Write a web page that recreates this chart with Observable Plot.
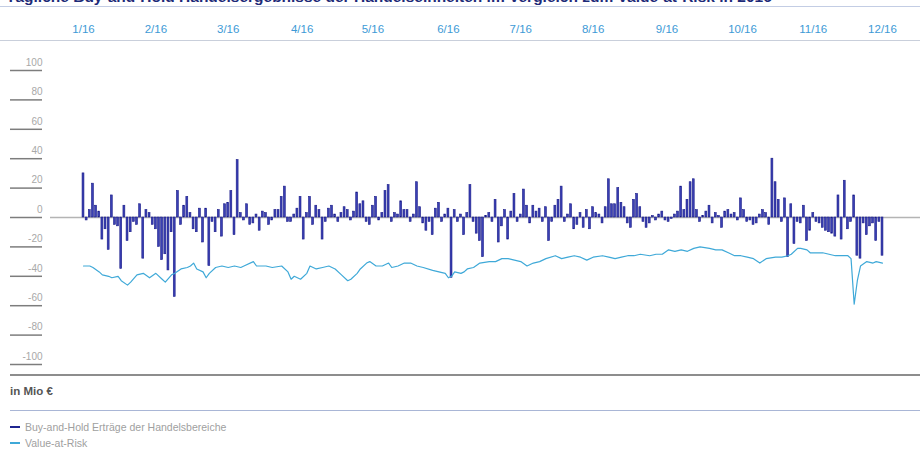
<!DOCTYPE html>
<html><head><meta charset="utf-8">
<script src="https://cdn.jsdelivr.net/npm/d3@7"></script>
<script src="https://cdn.jsdelivr.net/npm/@observablehq/plot@0.6"></script>
<style>
body{margin:0;background:#fff;font-family:"Liberation Sans",Arial,sans-serif;}
#wrap{position:relative;width:920px;height:449px;overflow:hidden;}
#chart{position:absolute;left:0;top:0;}
#title{position:absolute;left:6px;top:-12px;font-size:15.5px;font-weight:bold;color:#1d2a78;white-space:nowrap;}
.rule{position:absolute;}
#unit{position:absolute;left:10px;top:385px;font-size:11.5px;font-weight:bold;color:#555;}
.leg{position:absolute;left:10px;font-size:10.5px;color:#a0a0a0;white-space:nowrap;}
.leg span.sw{display:inline-block;width:10px;height:2px;vertical-align:middle;margin-right:5px;position:relative;top:-1px;}
</style></head>
<body>
<div id="wrap">
  <div id="chart"></div>
  <div id="title">Tägliche Buy-and-Hold Handelsergebnisse der Handelseinheiten im Vergleich zum Value-at-Risk in 2016</div>
  <div class="rule" style="left:0;top:6px;width:920px;height:1px;background:#c3cde4"></div>
  <div class="rule" style="left:0;top:40px;width:920px;height:1px;background:#c9cfdb"></div>
  <div class="rule" style="left:10px;top:374px;width:910px;height:2px;background:#8d8d8d"></div>
  <div id="unit">in Mio €</div>
  <div class="rule" style="left:10px;top:410px;width:910px;height:1px;background:#a9b6d6"></div>
  <div class="leg" style="top:421px"><span class="sw" style="background:#1f2590"></span>Buy-and-Hold Erträge der Handelsbereiche</div>
  <div class="leg" style="top:437px"><span class="sw" style="background:#3fa9d8"></span>Value-at-Risk</div>
</div>
<script>
// Daily Buy-and-Hold results (Mio €), trading days of 2016
const pnl = [
30,-2,5,23,8,4,-15,-8,-22,15,-5,-6,-35,8,-16,-10,-3,-5,9,-28,
5,3,-5,-8,-20,-29,-25,-36,-10,-54,18,-5,8,14,3,-8,-10,6,-17,6,
-33,-3,-10,5,-13,9,10,18,-12,39,3,-2,9,-5,-4,2,-9,4,3,-5,
-2,5,5,14,21,-3,-3,2,6,14,-15,3,14,-5,8,5,-15,-3,6,8,
2,-3,3,7,5,-2,4,17,9,11,-3,-5,8,14,-2,3,18,22,-3,3,
2,11,5,5,-3,2,24,7,-4,-9,-3,-12,6,10,-3,2,6,-41,5,-3,
2,-12,3,22,-3,-11,-16,-27,1,3,-3,12,-17,-6,5,-15,4,16,-3,2,
19,8,-4,8,4,6,-3,7,-16,-3,8,12,21,-3,2,9,-8,-5,3,-7,
5,-8,7,3,2,-4,7,26,9,9,20,10,7,-4,-7,12,16,7,-3,-7,
-4,1,-2,2,4,-2,-3,-1,2,4,21,5,12,24,26,5,-3,1,4,8,
-4,3,1,-7,4,5,2,3,-2,13,5,-3,-2,-5,-4,2,5,3,-5,40,
24,12,-3,13,-27,9,-18,-3,-4,8,-16,-9,3,-3,-4,-7,-9,-10,-11,-13,
15,-15,25,-8,-3,15,-26,-28,-4,-12,-6,-4,-16,-3,-26
];
// Value-at-Risk readings (trading-day index, Mio €)
const varDay = [0,2,3,5,6,8,9,11,12,14,15,17,19,21,23,25,26,28,29,31,33,34,35,36,38,39,40,42,44,46,48,50,51,54,55,58,60,63,65,66,67,69,71,72,74,76,78,80,82,84,85,87,88,90,91,93,95,97,98,100,102,104,106,108,111,113,115,116,117,118,120,121,122,124,126,129,131,133,135,137,139,141,143,145,147,150,152,154,156,158,160,162,165,167,169,171,173,175,177,180,182,184,186,188,190,192,194,196,199,201,203,205,207,209,211,213,215,217,220,222,224,225,227,228,230,231,233,235,237,239,241,243,244,245,246,247,249,251,252,254];
const varVal = [-33,-33,-34,-37,-39,-40,-41,-40,-43,-46,-44,-39,-38,-41,-38,-42,-44,-39,-38,-35,-34,-33,-31,-35,-37,-41,-38,-34,-33,-34,-33,-34,-33,-30,-33,-33,-34,-33,-37,-42,-40,-42,-38,-33,-35,-34,-33,-35,-39,-43,-42,-38,-35,-31,-30,-33,-33,-31,-34,-33,-31,-31,-33,-34,-36,-37,-38,-41,-40,-37,-38,-37,-35,-34,-31,-30,-30,-28,-28,-29,-30,-33,-31,-30,-28,-26,-28,-27,-26,-27,-29,-27,-26,-27,-28,-27,-26,-26,-25,-26,-25,-25,-22,-23,-22,-23,-21,-20,-21,-22,-22,-24,-26,-26,-27,-28,-31,-28,-27,-27,-26,-25,-21,-21,-22,-24,-24,-24,-25,-26,-26,-26,-28,-59,-43,-33,-30,-31,-30,-31];
const monthLabels = ["1/16","2/16","3/16","4/16","5/16","6/16","7/16","8/16","9/16","10/16","11/16","12/16"];
const monthPos = [0,23,46,69.5,92,116,139,162,185.5,209.5,232,254];
const yTicks = [100,80,60,40,20,0,-20,-40,-60,-80,-100];

const bars = pnl.map((v,i)=>({i, v}));
const varData = varDay.map((d,k)=>({i:d, v:varVal[k]}));
const months = monthLabels.map((m,k)=>({m, i:monthPos[k]}));

const chart = Plot.plot({
  width: 920, height: 449,
  marginTop: 70, marginBottom: 85, marginLeft: 50, marginRight: 0,
  style: {fontFamily: "'Liberation Sans', Arial, sans-serif", background: "transparent"},
  x: {domain: [0, 254], range: [83, 882], axis: null},
  y: {domain: [-100, 100], axis: null},
  marks: [
    Plot.axisY({ticks: yTicks, tickSize: 32, dx: -8, tickFormat: () => "", stroke: "#7d7d7d", strokeWidth: 1.5, label: null}),
    Plot.text(yTicks, {y: d => d, frameAnchor: "left", dx: -8, dy: -8, textAnchor: "end", fill: "#a8a8a8", fontSize: 10, text: d => String(d)}),
    Plot.text(months, {x: "i", text: "m", frameAnchor: "top", dy: -46, fill: "#3d9ad6", fontSize: 11.5}),
    Plot.ruleY([0], {stroke: "#b4b4b4", strokeWidth: 1.5}),
    Plot.rectY(bars, {x1: d => d.i - 0.3, x2: d => d.i + 0.3, y: "v", fill: "#3a40b4", stroke: "#191b88", strokeWidth: 0.6}),
    Plot.line(varData, {x: "i", y: "v", stroke: "#3fa9d8", strokeWidth: 1.2})
  ]
});
document.getElementById("chart").appendChild(chart);
</script>
</body></html>
